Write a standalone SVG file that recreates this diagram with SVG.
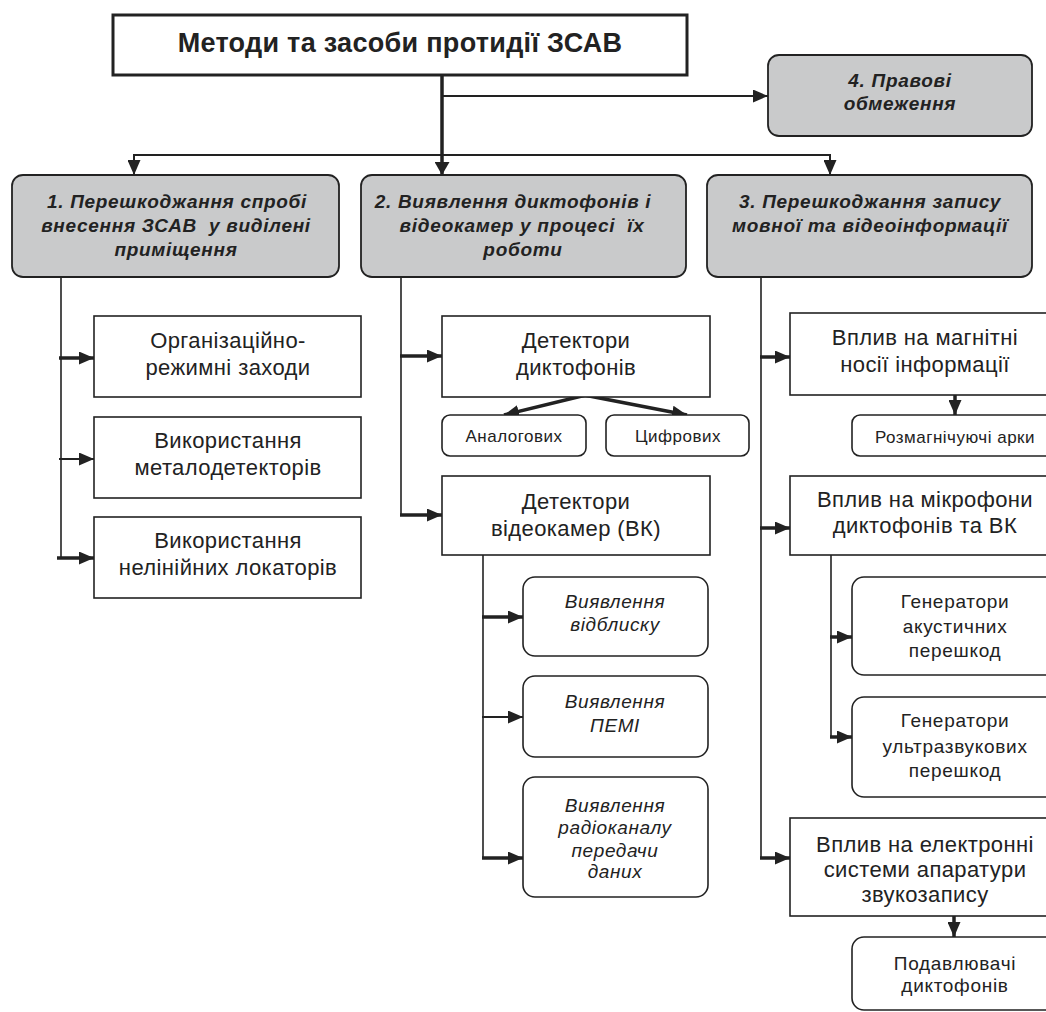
<svg xmlns="http://www.w3.org/2000/svg" width="1046" height="1012" viewBox="0 0 1046 1012">
<defs>
<style>
text{font-family:"Liberation Sans",Arial,sans-serif;fill:#222;text-anchor:middle}
.title{font-size:27px;font-weight:bold;letter-spacing:0.3px}
.hdr{font-size:19px;font-weight:bold;font-style:italic;letter-spacing:0.7px}
.big{font-size:22px;letter-spacing:0.4px}
.sm{font-size:17px;letter-spacing:0.5px}
.it{font-size:19px;font-style:italic;letter-spacing:0.6px}
.gen{font-size:19px;letter-spacing:0.7px}
.box{fill:#fff;stroke:#222;stroke-width:1.6}
.gbox{fill:#c9cacb;stroke:#222;stroke-width:1.8}
.rbox{fill:#fff;stroke:#222;stroke-width:1.6}
.ln{fill:none;stroke:#222;stroke-width:1.6}
.ln2{fill:none;stroke:#222;stroke-width:2}
.thk{fill:none;stroke:#222;stroke-width:3.5}
</style>
<marker id="ah" viewBox="0 0 15 13" refX="15" refY="6.5" markerWidth="15" markerHeight="13" markerUnits="userSpaceOnUse" orient="auto">
<path d="M0,0 L15,6.5 L0,13 z" fill="#222"/>
</marker>
<marker id="ahl" viewBox="0 0 13 15" refX="13" refY="7.5" markerWidth="13" markerHeight="15" markerUnits="userSpaceOnUse" orient="auto">
<path d="M0,0 L13,7.5 L0,15 z" fill="#222"/>
</marker>
</defs>

<g id="connectors">
<line class="thk" x1="442" y1="75" x2="442" y2="175" marker-end="url(#ahl)"/>
<line class="ln2" x1="442" y1="96" x2="768" y2="96" marker-end="url(#ah)"/>
<polyline class="ln2" points="134,165 134,155 830,155 830,165" />
<line class="ln2" x1="134" y1="155" x2="134" y2="175" marker-end="url(#ah)"/>
<line class="ln2" x1="830" y1="155" x2="830" y2="175" marker-end="url(#ah)"/>

<line class="ln" x1="61" y1="277" x2="61" y2="558"/>
<line class="thk" x1="59" y1="358" x2="94" y2="358" marker-end="url(#ah)"/>
<line class="ln2" x1="59" y1="459" x2="94" y2="459" marker-end="url(#ah)"/>
<line class="thk" x1="57" y1="558" x2="94" y2="558" marker-end="url(#ah)"/>

<line class="ln" x1="401" y1="277" x2="401" y2="515"/>
<line class="thk" x1="400" y1="356" x2="442" y2="356" marker-end="url(#ah)"/>
<line class="thk" x1="400" y1="515" x2="442" y2="515" marker-end="url(#ah)"/>
<line class="thk" x1="586" y1="395" x2="504" y2="415" marker-end="url(#ah)"/>
<line class="thk" x1="584" y1="395" x2="687" y2="415" marker-end="url(#ah)"/>

<line class="ln" x1="483" y1="555" x2="483" y2="858"/>
<line class="thk" x1="482" y1="617" x2="523" y2="617" marker-end="url(#ah)"/>
<line class="ln2" x1="482" y1="717" x2="523" y2="717" marker-end="url(#ah)"/>
<line class="thk" x1="482" y1="858" x2="523" y2="858" marker-end="url(#ah)"/>

<line class="ln" x1="761" y1="277" x2="761" y2="858"/>
<line class="thk" x1="760" y1="357" x2="790" y2="357" marker-end="url(#ah)"/>
<line class="thk" x1="760" y1="528" x2="790" y2="528" marker-end="url(#ah)"/>
<line class="thk" x1="760" y1="858" x2="790" y2="858" marker-end="url(#ah)"/>
<line class="thk" x1="955" y1="395" x2="955" y2="415" marker-end="url(#ah)"/>
<line class="thk" x1="954" y1="916" x2="954" y2="937" marker-end="url(#ah)"/>

<line class="ln" x1="831" y1="555" x2="831" y2="737"/>
<line class="thk" x1="830" y1="637" x2="852" y2="637" marker-end="url(#ah)"/>
<line class="thk" x1="830" y1="737" x2="852" y2="737" marker-end="url(#ah)"/>
</g>

<g id="n-title">
<rect x="113" y="15" width="574" height="60" fill="#fff" stroke="#222" stroke-width="3"/>
<text class="title" x="400" y="52">Методи та засоби протидії ЗСАВ</text>
</g>

<g id="n-4">
<rect class="gbox" x="768" y="55" width="264" height="81" rx="11"/>
<text class="hdr" x="900" y="87">4. Правові</text>
<text class="hdr" x="900" y="110">обмеження</text>
</g>

<g id="n-1">
<rect class="gbox" x="12" y="175" width="327" height="102" rx="11"/>
<text class="hdr" x="177" y="208">1. Перешкоджання спробі</text>
<text class="hdr" x="176" y="232" xml:space="preserve">внесення ЗСАВ  у виділені</text>
<text class="hdr" x="176" y="256">приміщення</text>
</g>

<g id="n-2">
<rect class="gbox" x="361" y="175" width="325" height="102" rx="11"/>
<text class="hdr" x="513" y="208">2. Виявлення диктофонів і</text>
<text class="hdr" x="522" y="232" xml:space="preserve">відеокамер у процесі  їх</text>
<text class="hdr" x="523" y="256">роботи</text>
</g>

<g id="n-3">
<rect class="gbox" x="707" y="175" width="325" height="102" rx="11"/>
<text class="hdr" x="870" y="208">3. Перешкоджання запису</text>
<text class="hdr" x="870" y="232">мовної та відеоінформації</text>
</g>

<g id="n-org">
<rect class="box" x="94" y="316" width="267" height="81"/>
<text class="big" x="228" y="348">Організаційно-</text>
<text class="big" x="228" y="375">режимні заходи</text>
</g>
<g id="n-metal">
<rect class="box" x="94" y="417" width="267" height="81"/>
<text class="big" x="228" y="448">Використання</text>
<text class="big" x="228" y="475">металодетекторів</text>
</g>
<g id="n-nelin">
<rect class="box" x="94" y="517" width="267" height="81"/>
<text class="big" x="228" y="548">Використання</text>
<text class="big" x="228" y="575">нелінійних локаторів</text>
</g>

<g id="n-detdikt">
<rect class="box" x="442" y="316" width="268" height="81"/>
<text class="big" x="576" y="348">Детектори</text>
<text class="big" x="576" y="375">диктофонів</text>
</g>
<g id="n-analog">
<rect class="rbox" x="442" y="415" width="144" height="41" rx="8"/>
<text class="sm" x="514" y="442">Аналогових</text>
</g>
<g id="n-digit">
<rect class="rbox" x="606" y="415" width="143" height="41" rx="8"/>
<text class="sm" x="678" y="442">Цифрових</text>
</g>
<g id="n-detvk">
<rect class="box" x="442" y="476" width="268" height="79"/>
<text class="big" x="576" y="509">Детектори</text>
<text class="big" x="576" y="536">відеокамер (ВК)</text>
</g>
<g id="n-vidbl">
<rect class="rbox" x="523" y="577" width="185" height="79" rx="12"/>
<text class="it" x="615" y="608">Виявлення</text>
<text class="it" x="615" y="631">відблиску</text>
</g>
<g id="n-pemi">
<rect class="rbox" x="523" y="676" width="185" height="81" rx="12"/>
<text class="it" x="615" y="708">Виявлення</text>
<text class="it" x="615" y="732">ПЕМІ</text>
</g>
<g id="n-radio">
<rect class="rbox" x="523" y="777" width="185" height="120" rx="12"/>
<text class="it" x="615" y="812">Виявлення</text>
<text class="it" x="615" y="834">радіоканалу</text>
<text class="it" x="615" y="857">передачи</text>
<text class="it" x="615" y="878">даних</text>
</g>

<g id="n-magn">
<rect class="box" x="790" y="313" width="270" height="82"/>
<text class="big" x="925" y="345">Вплив на магнітні</text>
<text class="big" x="925" y="372">носії інформації</text>
</g>
<g id="n-rozmag">
<rect class="rbox" x="852" y="415" width="210" height="41" rx="8"/>
<text class="sm" x="955" y="443">Розмагнічуючі арки</text>
</g>
<g id="n-mikro">
<rect class="box" x="790" y="476" width="270" height="79"/>
<text class="big" x="925" y="507">Вплив на мікрофони</text>
<text class="big" x="925" y="533">диктофонів та ВК</text>
</g>
<g id="n-genak">
<rect class="rbox" x="852" y="577" width="210" height="98" rx="12"/>
<text class="gen" x="955" y="608">Генератори</text>
<text class="gen" x="955" y="633">акустичних</text>
<text class="gen" x="955" y="657">перешкод</text>
</g>
<g id="n-genus">
<rect class="rbox" x="852" y="697" width="210" height="100" rx="12"/>
<text class="gen" x="955" y="727">Генератори</text>
<text class="gen" x="955" y="753">ультразвукових</text>
<text class="gen" x="955" y="777">перешкод</text>
</g>
<g id="n-elektr">
<rect class="box" x="790" y="818" width="270" height="98"/>
<text class="big" x="925" y="852">Вплив на електронні</text>
<text class="big" x="925" y="877">системи апаратури</text>
<text class="big" x="925" y="902">звукозапису</text>
</g>
<g id="n-podavl">
<rect class="rbox" x="852" y="937" width="210" height="73" rx="12"/>
<text class="gen" x="955" y="970">Подавлювачі</text>
<text class="gen" x="955" y="992">диктофонів</text>
</g>
</svg>
